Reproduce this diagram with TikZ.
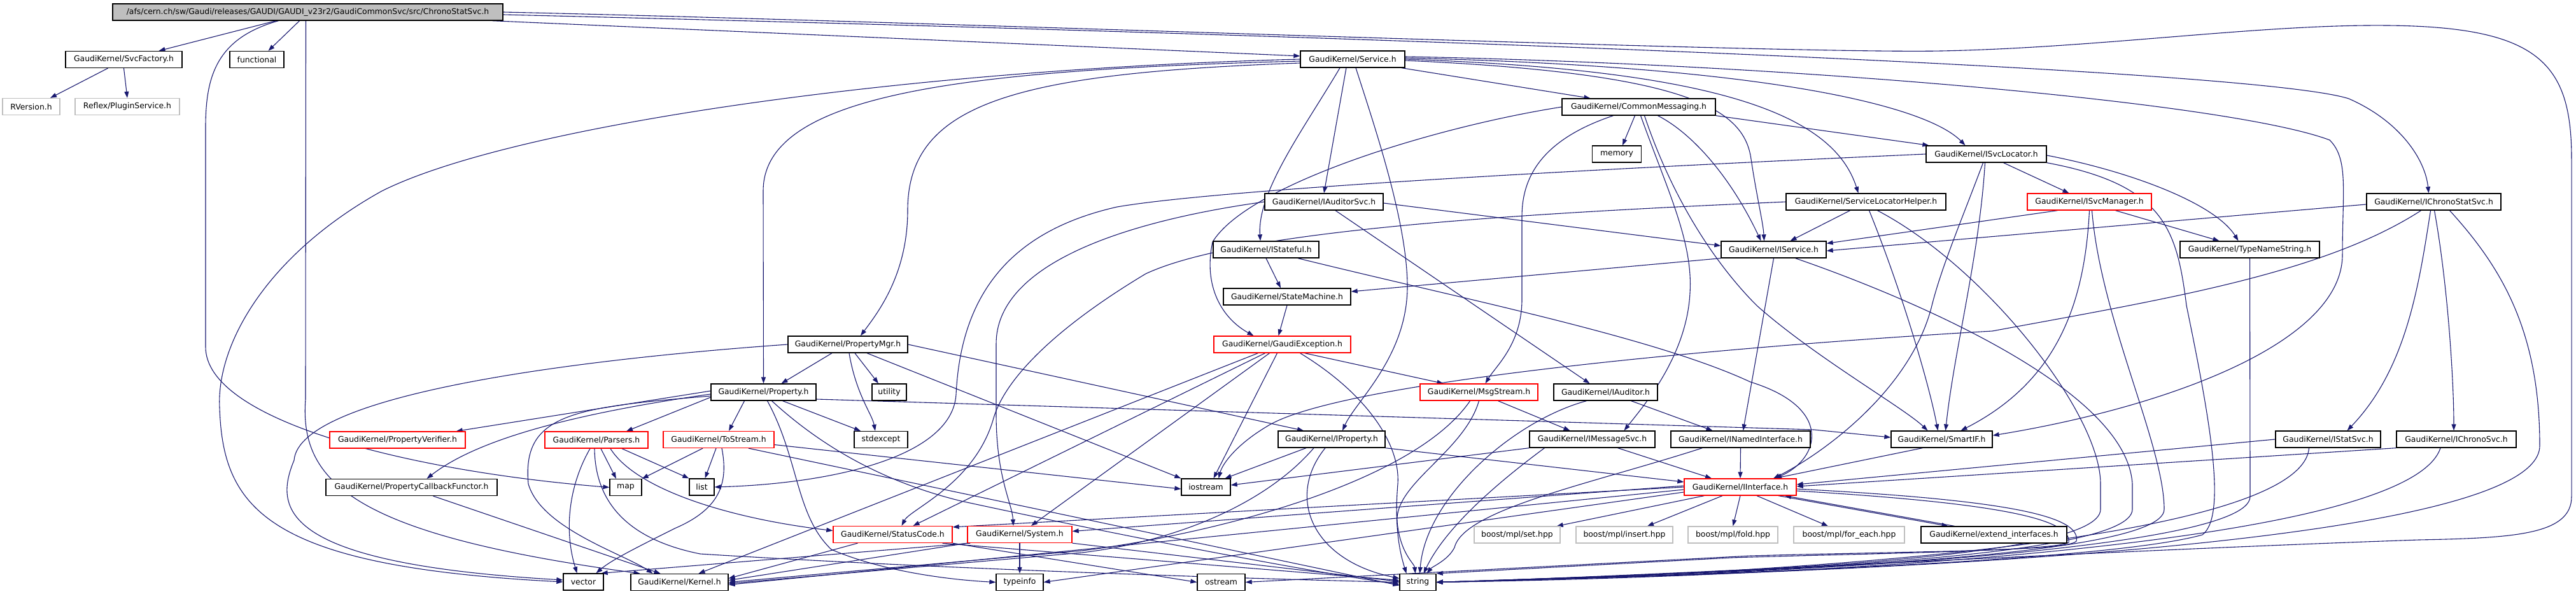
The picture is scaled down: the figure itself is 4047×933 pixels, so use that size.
\documentclass[tikz,border=0pt]{standalone}
\usepackage{fontspec}
\setmainfont{DejaVu Sans}
\usetikzlibrary{arrows.meta}
\pgfdeclarelayer{bg}
\pgfsetlayers{bg,main}
\definecolor{edgec}{HTML}{191970}
\definecolor{grayc}{HTML}{BFBFBF}
\begin{document}
\begin{tikzpicture}[x=1pt,y=-1pt,
  nd/.style={draw=black, line width=1.3pt, minimum height=26pt, inner sep=0pt, fill=white, font=\fontsize{12.4pt}{14pt}\selectfont},
  rd/.style={nd, draw=red},
  gr/.style={nd, draw=grayc},
  e/.style={draw=edgec, line width=1.1pt, -{Triangle[length=10pt,width=7pt]}}]
\useasboundingbox (0,0) rectangle (4047,933);
% ---------------- nodes
\node[nd,fill=grayc,minimum width=613pt] (root) at (483.5,19) {/afs/cern.ch/sw/Gaudi/releases/GAUDI/GAUDI\_v23r2/GaudiCommonSvc/src/ChronoStatSvc.h};
\node[nd,minimum width=183pt] (svcf) at (194.5,93.5) {GaudiKernel/SvcFactory.h};
\node[nd,minimum width=85pt] (functional) at (403.5,93.5) {functional};
\node[gr,minimum width=90pt] (rversion) at (49,167.5) {RVersion.h};
\node[gr,minimum width=164pt] (reflex) at (200,167.5) {Reflex/PluginService.h};
\node[nd,minimum width=164pt] (service) at (2125,93) {GaudiKernel/Service.h};
\node[nd,minimum width=241pt] (commsg) at (2574.5,168) {GaudiKernel/CommonMessaging.h};
\node[nd,minimum width=77pt] (memory) at (2540,242) {memory};
\node[nd,minimum width=186pt] (iauditorsvc) at (2080,317) {GaudiKernel/IAuditorSvc.h};
\node[nd,minimum width=166pt] (istateful) at (1989,392) {GaudiKernel/IStateful.h};
\node[nd,minimum width=200pt] (statemachine) at (2022,466) {GaudiKernel/StateMachine.h};
\node[rd,minimum width=215pt] (gaudiexc) at (2014.5,541) {GaudiKernel/GaudiException.h};
\node[rd,minimum width=185pt] (msgstream) at (2323.5,616) {GaudiKernel/MsgStream.h};
\node[nd,minimum width=163pt] (iauditor) at (2522.5,616) {GaudiKernel/IAuditor.h};
\node[nd,minimum width=168pt] (iproperty) at (2092,690) {GaudiKernel/IProperty.h};
\node[nd,minimum width=197pt] (imessagesvc) at (2501.5,690) {GaudiKernel/IMessageSvc.h};
\node[nd,minimum width=219pt] (inamed) at (2734.5,690) {GaudiKernel/INamedInterface.h};
\node[nd,minimum width=77pt] (iostream) at (1894.5,765) {iostream};
\node[rd,minimum width=176pt] (iinterface) at (2734,765) {GaudiKernel/IInterface.h};
\node[gr,minimum width=135pt] (mplset) at (2383.5,840) {boost/mpl/set.hpp};
\node[gr,minimum width=152pt] (mplinsert) at (2552,840) {boost/mpl/insert.hpp};
\node[gr,minimum width=141pt] (mplfold) at (2722.5,840) {boost/mpl/fold.hpp};
\node[gr,minimum width=174pt] (mplforeach) at (2905,840) {boost/mpl/for\_each.hpp};
\node[nd,minimum width=229pt] (extend) at (3132.5,840) {GaudiKernel/extend\_interfaces.h};
\node[nd,minimum width=75pt] (ostream) at (1918.5,914.5) {ostream};
\node[nd,minimum width=57pt] (string) at (2227.5,914.5) {string};
\node[nd,minimum width=189pt] (isvclocator) at (3120.5,242) {GaudiKernel/ISvcLocator.h};
\node[nd,minimum width=251pt] (svclochelper) at (2931.5,317) {GaudiKernel/ServiceLocatorHelper.h};
\node[rd,minimum width=195pt] (isvcmanager) at (3282.5,317) {GaudiKernel/ISvcManager.h};
\node[nd,minimum width=211pt] (ichronostat) at (3823.5,317) {GaudiKernel/IChronoStatSvc.h};
\node[nd,minimum width=165pt] (iservice) at (2786.5,392) {GaudiKernel/IService.h};
\node[nd,minimum width=219pt] (typename) at (3534.5,392) {GaudiKernel/TypeNameString.h};
\node[nd,minimum width=159pt] (smartif) at (3050.5,690) {GaudiKernel/SmartIF.h};
\node[nd,minimum width=165pt] (istatsvc) at (3657.5,690) {GaudiKernel/IStatSvc.h};
\node[nd,minimum width=188pt] (ichronosvc) at (3859,690) {GaudiKernel/IChronoSvc.h};
\node[nd,minimum width=188pt] (propmgr) at (1332,541) {GaudiKernel/PropertyMgr.h};
\node[nd,minimum width=165pt] (property) at (1199.5,616) {GaudiKernel/Property.h};
\node[nd,minimum width=54pt] (utility) at (1397,616) {utility};
\node[rd,minimum width=174pt] (tostream) at (1129,690.5) {GaudiKernel/ToStream.h};
\node[nd,minimum width=84pt] (stdexcept) at (1384,690.5) {stdexcept};
\node[nd,minimum width=39pt] (list) at (1102.5,765) {list};
\node[rd,minimum width=187pt] (statuscode) at (1402.5,839.5) {GaudiKernel/StatusCode.h};
\node[rd,minimum width=164pt] (system) at (1602,839.5) {GaudiKernel/System.h};
\node[nd,minimum width=153pt] (kernel) at (1067.5,914.5) {GaudiKernel/Kernel.h};
\node[nd,minimum width=74pt] (typeinfo) at (1602,914.5) {typeinfo};
\node[rd,minimum width=213pt] (propverifier) at (624.5,691) {GaudiKernel/PropertyVerifier.h};
\node[rd,minimum width=162pt] (parsers) at (937,691) {GaudiKernel/Parsers.h};
\node[nd,minimum width=269pt] (propcallback) at (646.5,765.5) {GaudiKernel/PropertyCallbackFunctor.h};
\node[nd,minimum width=50pt] (map) at (983,765.5) {map};
\node[nd,minimum width=63pt] (vector) at (916.5,914) {vector};
% ---------------- edges
\begin{pgfonlayer}{bg}
% root
\draw[e] ([xshift=-50pt]root.south) -- ([xshift=55pt]svcf.north);
\draw[e] ([xshift=-13pt]root.south) -- ([xshift=18pt]functional.north);
\draw[e] ([xshift=290pt]root.south) -- ([yshift=5pt]service.west);
\draw[e] ([xshift=-46pt]root.south) .. controls (340,60) and (323,120) .. (323,200) -- (323,545) .. controls (323,660) and (640,740) .. (map.west);
\draw[e] ([xshift=-3pt]root.south) -- (480,627) .. controls (470,760) and (560,840) .. ([xshift=-62pt]kernel.north);
\draw[e] (root.east) .. controls (1500,35) and (2800,85) .. (3050,80) .. controls (3300,75) and (3550,38) .. (3750,40) .. controls (3990,42) and (4040,100) .. (4040,250) -- (4040,780) .. controls (4040,840) and (3950,845) .. (3800,848) .. controls (3300,865) and (2600,905) .. (string.east);
\draw[e] ([yshift=-4pt]root.east) .. controls (2300,60) and (3550,110) .. (3690,155) .. controls (3770,190) and (3810,250) .. ([xshift=-8pt]ichronostat.north);
% SvcFactory
\draw[e] ([xshift=-25pt]svcf.south) -- ([xshift=30pt]rversion.north);
\draw[e] (svcf.south) -- (reflex.north);
% Service
\draw[e] (service.west) .. controls (1400,110) and (800,200) .. (600,300) .. controls (420,400) and (340,540) .. (345,640) .. controls (350,800) and (420,890) .. (vector.west);
\draw[e] ([yshift=-3pt]service.west) .. controls (1500,110) and (1199,150) .. (1199,300) -- (property.north);
\draw[e] ([yshift=-6pt]service.west) .. controls (1600,115) and (1426,160) .. (1426,330) .. controls (1426,430) and (1380,490) .. ([xshift=20pt]propmgr.north);
\draw[e] ([xshift=-20pt]service.south) .. controls (2050,200) and (1975,300) .. ([xshift=-9pt]istateful.north);
\draw[e] ([xshift=-10pt]service.south) -- (iauditorsvc.north);
\draw[e] ([xshift=5pt]service.south) .. controls (2160,200) and (2211,350) .. (2211,450) .. controls (2211,560) and (2130,630) .. ([xshift=17pt]iproperty.north);
\draw[e] ([xshift=-6pt]service.south east) -- ([xshift=-76pt]commsg.north);
\draw[e] ([yshift=-2pt]service.east) .. controls (2650,115) and (2740,170) .. (2751,250) .. controls (2760,310) and (2770,350) .. ([xshift=-15pt]iservice.north);
\draw[e] (service.east) .. controls (2700,110) and (2880,180) .. ([xshift=-12pt]svclochelper.north);
\draw[e] ([yshift=2pt]service.east) .. controls (2800,105) and (3030,170) .. ([xshift=-33pt]isvclocator.north);
\draw[e] ([yshift=4pt]service.east) .. controls (2800,100) and (3500,160) .. (3660,220) .. controls (3690,250) and (3680,300) .. (3680,400) .. controls (3680,540) and (3400,640) .. ([yshift=6pt]smartif.east);
% CommonMessaging
\draw[e] ([xshift=-6pt]commsg.south) -- ([xshift=9pt]memory.north);
\draw[e] (commsg.south east) -- ([xshift=5pt]isvclocator.north west);
\draw[e] ([xshift=-40pt]commsg.south) .. controls (2420,220) and (2391,280) .. (2391,340) -- (2391,470) .. controls (2391,540) and (2350,575) .. ([xshift=10pt]msgstream.north);
\draw[e] (commsg.west) .. controls (2250,200) and (1960,290) .. (1905,380) .. controls (1890,450) and (1920,500) .. ([xshift=-45pt]gaudiexc.north);
\draw[e] ([xshift=3pt]commsg.south) .. controls (2620,300) and (2660,380) .. (2655,460) .. controls (2650,560) and (2580,640) .. ([xshift=50pt]imessagesvc.north);
\draw[e] ([xshift=30pt]commsg.south) .. controls (2660,210) and (2720,280) .. ([xshift=-20pt]iservice.north);
\draw[e] ([xshift=9pt]commsg.south) .. controls (2630,320) and (2700,420) .. (2760,480) .. controls (2850,560) and (2990,640) .. ([xshift=-22pt]smartif.north);
% ISvcLocator
\draw[e] (isvclocator.west) .. controls (2400,270) and (1900,300) .. (1755,325) .. controls (1600,360) and (1510,450) .. (1502,620) .. controls (1495,720) and (1300,760) .. (list.east);
\draw[e] ([xshift=27pt]isvclocator.south) -- ([xshift=-32pt]isvcmanager.north);
\draw[e] ([yshift=-2pt]isvclocator.east) .. controls (3350,270) and (3480,320) .. ([xshift=-18pt]typename.north);
\draw[e] ([xshift=-2pt]isvclocator.south) .. controls (3110,400) and (3070,550) .. ([xshift=6pt]smartif.north);
\draw[e] ([xshift=-5pt]isvclocator.south) .. controls (3080,350) and (3050,420) .. (3035,480) .. controls (3000,620) and (2850,720) .. ([xshift=52pt]iinterface.north);
\draw[e] (isvclocator.south east) .. controls (3400,290) and (3420,360) .. (3435,480) .. controls (3470,650) and (3500,810) .. (3460,840) .. controls (3300,885) and (2600,905) .. (string.east);
% ServiceLocatorHelper
\draw[e] ([xshift=-25pt]svclochelper.south) -- ([xshift=26pt]iservice.north);
\draw[e] ([xshift=5pt]svclochelper.south) .. controls (2985,450) and (3030,600) .. ([xshift=-6pt]smartif.north);
\draw[e] ([xshift=18pt]svclochelper.south) .. controls (3120,420) and (3300,650) .. (3300,760) -- (3300,800) .. controls (3300,880) and (2700,900) .. (string.east);
\draw[e] (svclochelper.west) .. controls (2400,335) and (1950,360) .. (1800,430) .. controls (1650,520) and (1576,600) .. (1560,660) .. controls (1530,760) and (1430,800) .. ([xshift=14pt]statuscode.north);
% ISvcManager
\draw[e] ([xshift=-50pt]isvcmanager.south) -- ([yshift=-4pt]iservice.north east);
\draw[e] ([xshift=41pt]isvcmanager.south) -- ([xshift=-48pt]typename.north);
\draw[e] (isvcmanager.south) .. controls (3275,480) and (3230,600) .. ([xshift=30pt]smartif.north);
\draw[e] ([xshift=4pt]isvcmanager.south) .. controls (3300,500) and (3400,700) .. (3400,800) .. controls (3400,880) and (2700,900) .. (string.east);
% IChronoStatSvc
\draw[e] ([yshift=-4pt]ichronostat.west) -- ([yshift=-2pt]iservice.east);
\draw[e] ([xshift=-5pt]ichronostat.south) .. controls (3800,450) and (3780,580) .. ([xshift=30pt]istatsvc.north);
\draw[e] ([xshift=1pt]ichronostat.south) .. controls (3846,450) and (3855,600) .. ([xshift=-4pt]ichronosvc.north);
\draw[e] ([xshift=25pt]ichronostat.south) .. controls (3930,420) and (3990,520) .. (3990,700) .. controls (3990,880) and (2600,905) .. (string.east);
\draw[e] ([xshift=-20pt]ichronostat.south) .. controls (3650,430) and (3400,470) .. (3130,520) .. controls (2700,545) and (2100,600) .. (1990,670) .. controls (1940,700) and (1920,730) .. ([xshift=20pt]iostream.north);
% TypeNameString
\draw[e] (typename.south) -- (3535,780) .. controls (3535,870) and (2700,905) .. (string.east);
% IService
\draw[e] (iservice.south) -- ([xshift=4pt]inamed.north);
\draw[e] (iservice.south west) -- ([yshift=8pt]statemachine.east);
\draw[e] ([xshift=34pt]iservice.south) .. controls (2950,450) and (3340,600) .. (3350,760) -- (3350,800) .. controls (3350,880) and (2700,900) .. (string.east);
% IStateful / StateMachine
\draw[e] (istateful.south) -- ([xshift=-10pt]statemachine.north);
\draw[e] ([xshift=50pt]istateful.south) .. controls (2300,470) and (2600,530) .. (2750,600) .. controls (2880,640) and (2860,720) .. ([xshift=55pt]iinterface.north);
\draw[e] (statemachine.south) -- ([xshift=-6pt]gaudiexc.north);
% GaudiException
\draw[e] ([xshift=35pt]gaudiexc.south) -- ([xshift=-56pt]msgstream.north);
\draw[e] ([xshift=-38pt]gaudiexc.south) -- ([xshift=30pt]kernel.north);
\draw[e] ([xshift=-27pt]gaudiexc.south) -- ([xshift=32pt]statuscode.north);
\draw[e] ([xshift=-20pt]gaudiexc.south) -- ([xshift=18pt]system.north);
\draw[e] ([xshift=-8pt]gaudiexc.south) -- ([xshift=12pt]iostream.north);
\draw[e] ([xshift=28pt]gaudiexc.south) .. controls (2150,620) and (2200,700) .. (2196,760) .. controls (2190,830) and (2200,870) .. ([xshift=-18pt]string.north);
% MsgStream
\draw[e] ([xshift=30pt]msgstream.south) -- ([xshift=-35pt]imessagesvc.north);
\draw[e] (msgstream.south) .. controls (2300,710) and (2190,760) .. (2195,820) .. controls (2200,870) and (2222,885) .. ([xshift=-4pt]string.north);
\draw[e] ([xshift=-14pt]msgstream.south) .. controls (2220,760) and (1900,840) .. (1700,865) -- (kernel.east);
% IAuditorSvc / IAuditor
\draw[e] ([xshift=18pt]iauditorsvc.south) -- ([xshift=-25pt]iauditor.north);
\draw[e] ([yshift=-2pt]iauditorsvc.east) -- ([yshift=6pt]iservice.west);
\draw[e] (iauditorsvc.west) .. controls (1750,350) and (1565,420) .. (1565,540) -- (1565,650) .. controls (1565,750) and (1590,790) .. ([xshift=-10pt]system.north);
\draw[e] ([xshift=40pt]iauditor.south) -- ([xshift=-44pt]inamed.north);
\draw[e] ([xshift=-30pt]iauditor.south) .. controls (2380,660) and (2240,780) .. ([xshift=3pt]string.north);
% IProperty
\draw[e] (iproperty.south east) -- ([yshift=8pt]iinterface.west);
\draw[e] ([xshift=-40pt]iproperty.south) -- ([xshift=30pt]iostream.north);
\draw[e] ([xshift=-10pt]iproperty.south) .. controls (2020,780) and (2060,880) .. ([yshift=6pt]string.west);
\draw[e] ([xshift=-28pt]iproperty.south) .. controls (1990,790) and (1850,850) .. (1700,868) -- ([yshift=-2pt]kernel.east);
% IMessageSvc / INamedInterface
\draw[e] ([xshift=40pt]imessagesvc.south) -- ([xshift=-45pt]iinterface.north);
\draw[e] (imessagesvc.south west) -- ([yshift=3pt]iostream.east);
\draw[e] ([xshift=-75pt]imessagesvc.south) .. controls (2350,760) and (2270,830) .. ([xshift=9pt]string.north);
\draw[e] (inamed.south) -- (iinterface.north);
\draw[e] ([xshift=-60pt]inamed.south) .. controls (2500,760) and (2300,800) .. (2285,860) .. controls (2275,880) and (2250,890) .. ([xshift=14pt]string.north);
% IInterface
\draw[e] ([xshift=32pt]iinterface.south west) -- ([xshift=-6pt]mplset.north east);
\draw[e] ([xshift=-28pt]iinterface.south) -- ([xshift=36pt]mplinsert.north);
\draw[e] (iinterface.south) -- (mplfold.north);
\draw[e] ([xshift=26pt]iinterface.south) -- ([xshift=-33pt]mplforeach.north);
\draw[e] ([xshift=60pt]iinterface.south) -- ([xshift=-72pt]extend.north);
\draw[e] ([xshift=-62pt]extend.north) -- ([xshift=70pt]iinterface.south);
\draw[e] ([yshift=-3pt]iinterface.east) .. controls (3150,785) and (3270,810) .. (3262,850) .. controls (3250,866) and (3000,866) .. (2750,873) -- (ostream.east);
\draw[e] ([yshift=-6pt]iinterface.east) .. controls (3140,790) and (3255,815) .. (3250,852) .. controls (3230,866) and (2900,870) .. (2720,876) -- (string.north east);
\draw[e] (iinterface.west) -- ([yshift=-2pt]statuscode.north east);
\draw[e] ([yshift=2pt]iinterface.west) -- ([yshift=5pt]system.east);
\draw[e] ([yshift=-8pt]iinterface.west) -- (typeinfo.east);
\draw[e] ([yshift=-4pt]iinterface.west) -- ([yshift=-4pt]kernel.east);
% SmartIF, IStatSvc, IChronoSvc
\draw[e] ([xshift=-30pt]smartif.south) -- ([xshift=54pt]iinterface.north);
\draw[e] (istatsvc.west) -- ([yshift=4pt]iinterface.east);
\draw[e] (ichronosvc.south west) -- ([yshift=1pt]iinterface.east);
\draw[e] ([xshift=-30pt]istatsvc.south) .. controls (3615,860) and (2700,905) .. (string.east);
\draw[e] ([xshift=-25pt]ichronosvc.south) .. controls (3780,870) and (2700,908) .. (string.east);
% PropertyMgr
\draw[e] ([xshift=-25pt]propmgr.south) -- ([xshift=28pt]property.north);
\draw[e] ([xshift=11pt]propmgr.south) -- ([xshift=-17pt]utility.north);
\draw[e] ([xshift=2pt]propmgr.south) .. controls (1345,620) and (1370,650) .. ([xshift=-9pt]stdexcept.north);
\draw[e] ([xshift=30pt]propmgr.south) -- (iostream.north west);
\draw[e] (propmgr.east) -- ([xshift=-44pt]iproperty.north);
\draw[e] (propmgr.west) .. controls (900,565) and (470,620) .. (462,723) .. controls (430,800) and (440,885) .. ([yshift=3pt]vector.west);
% Property
\draw[e] ([xshift=-30pt]property.south) -- ([xshift=16pt]tostream.north);
\draw[e] ([xshift=30pt]property.south) -- ([xshift=-32pt]stdexcept.north);
\draw[e] ([xshift=6pt]property.south) .. controls (1255,720) and (1250,810) .. (1306,863) .. controls (1380,895) and (1480,910) .. (typeinfo.west);
\draw[e] ([xshift=13pt]property.south) .. controls (1300,710) and (1400,760) .. (1510,787) .. controls (1800,850) and (2100,905) .. ([yshift=-3pt]string.west);
\draw[e] ([yshift=-11pt]property.east) -- (2850,675) -- ([yshift=3pt]smartif.west);
\draw[e] ([yshift=2pt]property.west) -- ([xshift=-15pt]propverifier.north east);
\draw[e] ([yshift=-8pt]property.west) -- ([xshift=47pt]parsers.north);
\draw[e] ([yshift=-3pt]property.west) .. controls (900,650) and (750,690) .. ([xshift=24pt]propcallback.north);
\draw[e] ([yshift=-6pt]property.west) .. controls (900,640) and (820,650) .. (830,760) .. controls (850,830) and (980,870) .. ([xshift=-42pt]kernel.north);
% ToStream
\draw[e] ([xshift=-25pt]tostream.south) -- (map.north east);
\draw[e] ([xshift=-4pt]tostream.south) -- ([xshift=5pt]list.north);
\draw[e] ([xshift=5pt]tostream.south) .. controls (1145,760) and (1130,800) .. (1060,830) .. controls (1000,860) and (960,880) .. ([xshift=20pt]vector.north);
\draw[e] ([xshift=47pt]tostream.south) -- ([yshift=-5pt]string.west);
\draw[e] ([yshift=-8pt]tostream.east) -- ([yshift=-3pt]iostream.west);
% Parsers
\draw[e] ([xshift=-10pt]parsers.south) .. controls (895,760) and (885,830) .. ([xshift=-10pt]vector.north);
\draw[e] ([xshift=7pt]parsers.south) -- ([xshift=-15pt]map.north);
\draw[e] ([xshift=40pt]parsers.south) -- (list.north west);
\draw[e] ([xshift=22pt]parsers.south) .. controls (1000,770) and (1150,815) .. ([yshift=6pt]statuscode.west);
\draw[e] ([xshift=-3pt]parsers.south) .. controls (935,800) and (1000,850) .. (1100,870) .. controls (1500,895) and (2000,910) .. (string.west);
% PropertyCallbackFunctor
\draw[e] ([xshift=34pt]propcallback.south) -- ([xshift=-30pt]kernel.north);
% StatusCode / System
\draw[e] ([xshift=-55pt]statuscode.south) -- ([yshift=6pt]kernel.east);
\draw[e] ([xshift=78pt]statuscode.south) -- ([yshift=3pt]string.west);
\draw[e] (statuscode.south east) -- (ostream.west);
\draw[e] (system.south west) -- ([yshift=3pt]kernel.east);
\draw[e] (system.south) -- (typeinfo.north);
\draw[e] (system.south east) -- ([yshift=1pt]string.west);
\draw[e] ([xshift=5pt]system.south west) -- ([xshift=-4pt]vector.north east);
\end{pgfonlayer}
\end{tikzpicture}
\end{document}
